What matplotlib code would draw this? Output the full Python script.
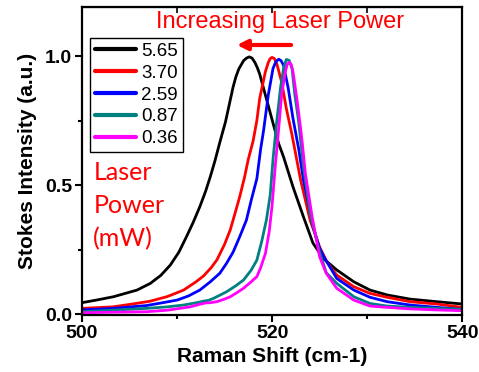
import matplotlib
matplotlib.use("Agg")
import matplotlib.pyplot as plt

# Raman Stokes spectra (normalised) at several laser powers
labels = ["5.65", "3.70", "2.59", "0.87", "0.36"]
colors = ["#000000", "#ff0000", "#0000ff", "#008080", "#ff00ff"]

shift_565 = [500.0, 501.5, 503.3, 505.8, 507.2, 508.3, 509.3, 510.2, 511.0, 511.7, 512.4,
             513.0, 513.5, 514.0, 514.5, 515.1, 515.9, 516.2, 516.5, 517.0, 517.3, 517.6,
             517.9, 518.2, 518.45, 518.7, 519.4, 520.1, 520.7, 521.2, 522.2, 523.3, 524.3,
             525.4, 526.8, 528.6, 530.3, 532.1, 534.5, 537.3, 540.0]
int_565 = [0.044, 0.054, 0.067, 0.093, 0.119, 0.150, 0.190, 0.240, 0.300, 0.355, 0.416,
           0.475, 0.532, 0.595, 0.665, 0.745, 0.880, 0.920, 0.950, 0.982, 0.992, 0.997,
           0.992, 0.975, 0.955, 0.930, 0.835, 0.740, 0.660, 0.610, 0.493, 0.377, 0.275,
           0.215, 0.171, 0.125, 0.093, 0.074, 0.058, 0.048, 0.039]

shift_370 = [500.0, 503.3, 505.5, 507.2, 509.0, 510.7, 512.0, 512.8, 513.6, 514.2, 515.0,
             515.6, 516.1, 516.6, 517.1, 517.5, 518.0, 518.4, 518.7, 519.3, 519.6, 519.8,
             520.0, 520.25, 520.5, 521.0, 521.5, 522.1, 522.4, 523.0, 524.0, 525.0, 525.8,
             526.8, 528.6, 530.3, 532.1, 534.5, 537.3, 540.0]
int_370 = [0.022, 0.028, 0.040, 0.050, 0.068, 0.093, 0.125, 0.148, 0.180, 0.210, 0.270,
           0.326, 0.390, 0.455, 0.530, 0.600, 0.670, 0.750, 0.836, 0.940, 0.975, 0.990,
           0.995, 0.990, 0.970, 0.900, 0.797, 0.694, 0.636, 0.520, 0.364, 0.260, 0.200,
           0.151, 0.106, 0.080, 0.065, 0.048, 0.039, 0.026]

shift_259 = [500.0, 503.3, 506.8, 508.5, 510.0, 511.2, 512.4, 513.5, 514.5, 515.2, 515.9,
             516.6, 517.3, 517.8, 518.4, 518.8, 519.1, 519.6, 520.1, 520.4, 520.7, 520.95,
             521.2, 521.7, 522.2, 522.8, 523.3, 524.3, 525.0, 525.4, 526.8, 528.6, 530.3,
             532.1, 534.5, 537.3, 540.0]
int_259 = [0.016, 0.022, 0.033, 0.044, 0.054, 0.070, 0.093, 0.125, 0.158, 0.196, 0.240,
           0.300, 0.364, 0.440, 0.525, 0.640, 0.710, 0.849, 0.952, 0.978, 0.988, 0.982,
           0.965, 0.875, 0.758, 0.640, 0.520, 0.340, 0.255, 0.225, 0.138, 0.093, 0.065,
           0.048, 0.035, 0.026, 0.018]

shift_087 = [500.0, 503.3, 506.8, 509.0, 510.7, 512.2, 512.8, 513.3, 513.8, 515.2, 516.2,
             517.0, 517.8, 518.4, 518.9, 519.4, 519.8, 520.1, 520.5, 520.9, 521.2, 521.5,
             521.8, 522.1, 522.4, 522.8, 523.3, 524.0, 525.0, 525.7, 526.8, 528.6, 530.3,
             532.1, 534.5, 537.3, 540.0]
int_087 = [0.009, 0.015, 0.022, 0.028, 0.035, 0.045, 0.050, 0.053, 0.060, 0.086, 0.110,
           0.132, 0.170, 0.209, 0.280, 0.364, 0.460, 0.600, 0.750, 0.880, 0.950, 0.987,
           0.983, 0.952, 0.849, 0.745, 0.570, 0.390, 0.240, 0.160, 0.119, 0.067, 0.041,
           0.031, 0.026, 0.022, 0.018]

shift_036 = [500.0, 503.3, 506.8, 509.0, 510.3, 511.4, 512.4, 513.0, 513.5, 514.2, 515.0,
             515.6, 516.3, 517.0, 517.7, 518.4, 518.8, 519.3, 519.7, 520.0, 520.35, 520.7,
             521.0, 521.4, 521.6, 521.8, 522.0, 522.2, 522.6, 523.0, 523.2, 523.5, 524.2,
             525.0, 525.7, 526.8, 528.6, 530.3, 532.1, 534.5, 537.3, 540.0]
int_036 = [0.005, 0.007, 0.009, 0.015, 0.022, 0.028, 0.038, 0.043, 0.044, 0.048, 0.058,
           0.067, 0.083, 0.100, 0.122, 0.145, 0.180, 0.235, 0.320, 0.420, 0.580, 0.720,
           0.850, 0.940, 0.968, 0.976, 0.968, 0.940, 0.836, 0.720, 0.655, 0.545, 0.380,
           0.222, 0.158, 0.100, 0.054, 0.031, 0.026, 0.020, 0.016, 0.013]

shifts = [shift_565, shift_370, shift_259, shift_087, shift_036]
intensities = [int_565, int_370, int_259, int_087, int_036]

fig = plt.figure(figsize=(4.79, 3.72), dpi=100)
ax = fig.add_axes([0.171, 0.153, 0.794, 0.828])

for x, y, c, lab in zip(shifts, intensities, colors, labels):
    ax.plot(x, y, color=c, lw=2.0, label=lab, solid_joinstyle="round",
            solid_capstyle="round")

ax.set_xlim(500, 540)
ax.set_ylim(-0.004, 1.19)
ax.set_xticks([500, 520, 540])
ax.set_xticks([510, 530], minor=True)
ax.set_yticks([0.0, 0.5, 1.0])
ax.set_yticks([0.25, 0.75], minor=True)
ax.set_yticklabels(["0.0", "0.5", "1.0"])

for lbl in ax.get_xticklabels() + ax.get_yticklabels():
    lbl.set_fontfamily("Liberation Sans")
    lbl.set_fontweight("bold")
    lbl.set_fontsize(14)

ax.tick_params(axis="both", which="major", direction="out", length=5, width=1.5, pad=2)
ax.tick_params(axis="both", which="minor", direction="out", length=3, width=1.5)
for s in ax.spines.values():
    s.set_linewidth(1.6)

# mirrored inward ticks on the top edge
top = ax.secondary_xaxis("top")
top.set_xticks([500, 510, 520, 530, 540])
top.tick_params(direction="in", length=4, width=1.2, labeltop=False)
top.set_xticklabels([])

ax.set_xlabel("Raman Shift (cm-1)", fontfamily="Liberation Sans", fontweight="bold",
              fontsize=15, labelpad=4)
ax.set_ylabel("Stokes Intensity (a.u.)", fontfamily="Liberation Sans", fontweight="bold",
              fontsize=15, labelpad=6)

leg = ax.legend(loc="upper left", bbox_to_anchor=(0.021, 0.899), frameon=True,
                fancybox=False, edgecolor="black", framealpha=1,
                prop=dict(family="Liberation Sans", size=13.5),
                handlelength=2.2, handletextpad=0.3, labelspacing=0.25,
                borderpad=0.25, borderaxespad=0.0)
leg.get_frame().set_linewidth(1.0)
for h in leg.get_lines():
    h.set_linewidth(3.0)

ax.text(0.52, 0.951, "Increasing Laser Power", transform=ax.transAxes, color="red",
        fontfamily="Liberation Sans", fontsize=17, ha="center", va="center")
ax.annotate("", xy=(516.3, 1.043), xytext=(522.0, 1.043),
            arrowprops=dict(arrowstyle="-|>,head_length=0.6,head_width=0.3",
                            color="red", lw=3, shrinkA=0, shrinkB=0))

ax.text(501.2, 0.42, "Laser\nPower\n(mW)", color="red", fontfamily="Lato",
        fontsize=18, ha="left", va="center", linespacing=1.5)

fig.savefig("out.png", dpi=100)
